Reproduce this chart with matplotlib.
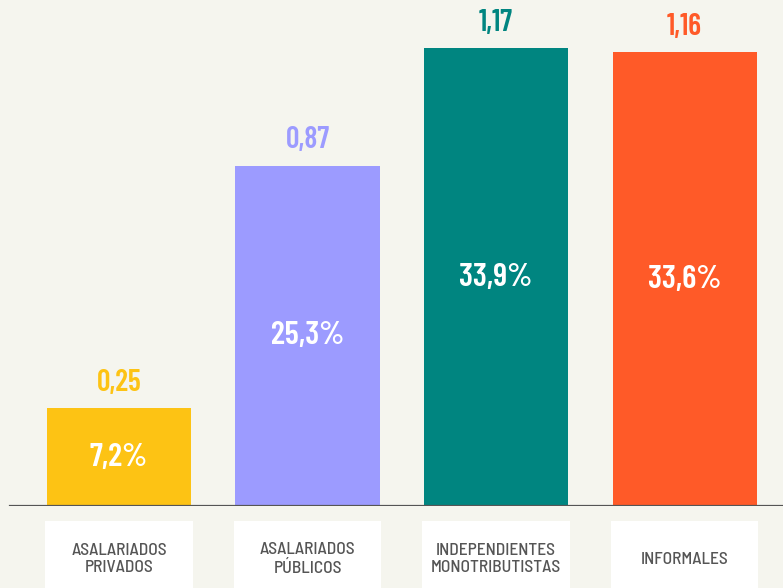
import matplotlib
matplotlib.use("Agg")
import matplotlib.pyplot as plt
from matplotlib.patches import Rectangle
import matplotlib.transforms as mtransforms

categories = ["ASALARIADOS\nPRIVADOS", "ASALARIADOS\nPÚBLICOS", "INDEPENDIENTES\nMONOTRIBUTISTAS", "INFORMALES"]
values = [0.25, 0.87, 1.17, 1.16]
value_labels = ["0,25", "0,87", "1,17", "1,16"]
pct_labels = ["7,2%", "25,3%", "33,9%", "33,6%"]
colors = ["#FDC314", "#9C9BFF", "#008580", "#FF5A28"]

plt.rcParams["font.family"] = ["Barlow Condensed", "DejaVu Sans"]

bg = "#F5F5EE"
fig = plt.figure(figsize=(7.83, 5.88), dpi=100, facecolor=bg)
ax = fig.add_axes([0, 82 / 588, 1, 506 / 588])
ax.set_facecolor(bg)

x = list(range(len(values)))
width = 0.764
bars = ax.bar(x, values, width=width, color=colors, zorder=2)
ax.set_xlim(-0.631, 3.522)
ax.set_ylim(0, 1.294)
for s in ax.spines.values():
    s.set_visible(False)
ax.set_xticks([])
ax.set_yticks([])

ax.axhline(0, xmin=0.013, xmax=1, color="#555555", lw=1.6, zorder=3)

trans = mtransforms.blended_transform_factory(ax.transData, ax.transAxes)
for xi, v, vl, pl, c, cat in zip(x, values, value_labels, pct_labels, colors, categories):
    ax.text(xi, v + 0.065, vl, ha="center", va="center", color=c, fontsize=21.5, fontweight=600)
    ax.text(xi, v / 2, pl, ha="center", va="center", color="white", fontsize=23.5, fontweight=600)
    ax.add_patch(Rectangle((xi - width / 2 - 0.01, -0.165), width + 0.02, 0.135, transform=trans,
                           facecolor="white", edgecolor="none", clip_on=False))
    ax.text(xi, -0.105, cat, transform=trans, ha="center", va="center", color="#555555",
            fontsize=12.5, fontweight=500, linespacing=1.2, clip_on=False,
            family=["Barlow Semi Condensed", "DejaVu Sans"])

fig.savefig("out.png", dpi=100, facecolor=bg)
